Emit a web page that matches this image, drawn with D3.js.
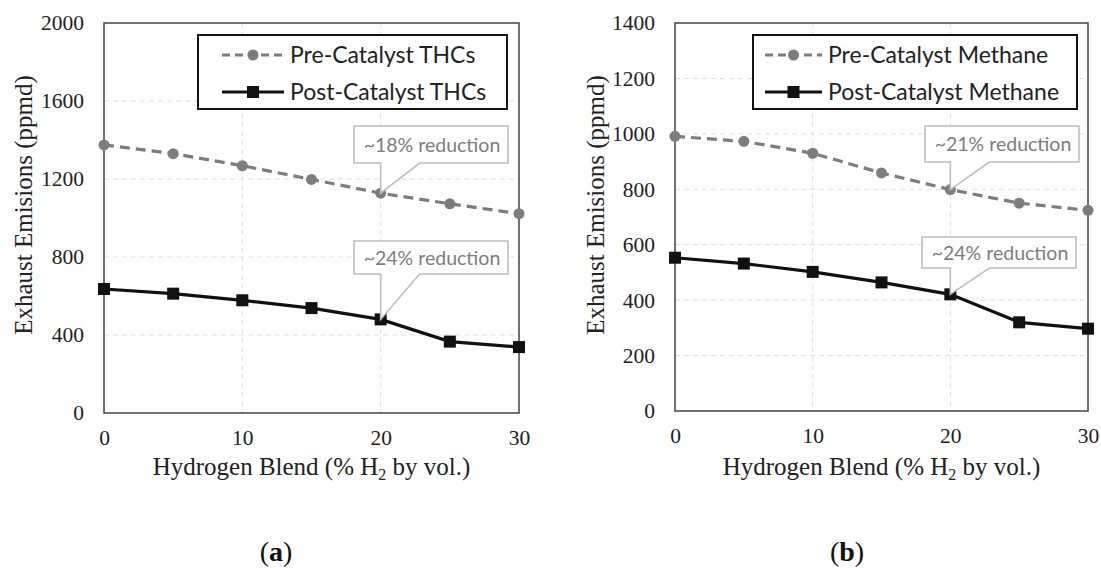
<!DOCTYPE html>
<html>
<head>
<meta charset="utf-8">
<script src="https://cdn.jsdelivr.net/npm/d3@7"></script>
<style>
  html, body { margin: 0; padding: 0; background: #fff; }
  svg { display: block; }
</style>
</head>
<body>
<svg id="chart" width="1101" height="568"></svg>
<script>
// Hydrogen blend levels (% H2 by volume)
const blend = [0, 5, 10, 15, 20, 25, 30];

// Panel (a): total hydrocarbons, ppmd
const preTHC  = [1375, 1330, 1268, 1198, 1127, 1073, 1022];
const postTHC = [636, 612, 578, 538, 480, 366, 338];

// Panel (b): methane, ppmd
const preCH4  = [991, 973, 930, 859, 799, 750, 724];
const postCH4 = [553, 532, 502, 464, 421, 320, 297];

const xTicks  = [0, 10, 20, 30];
const yTicksA = [0, 400, 800, 1200, 1600, 2000];
const yTicksB = [0, 200, 400, 600, 800, 1000, 1200, 1400];

const legendA = ["Pre-Catalyst THCs", "Post-Catalyst THCs"];
const legendB = ["Pre-Catalyst Methane", "Post-Catalyst Methane"];

const notesA = ["~18% reduction", "~24% reduction"];
const notesB = ["~21% reduction", "~24% reduction"];

const serif = "Liberation Serif, Times New Roman, serif";
const sans  = "Lato, Open Sans, sans-serif";
const grey  = "#7d7d7d";

const svg = d3.select("#chart");

function panel(opt) {
  const g = svg.append("g");
  const x = d3.scaleLinear().domain([0, 30]).range([opt.left, opt.right]);
  const y = d3.scaleLinear().domain([0, opt.yMax]).range([opt.bottom, opt.top]);

  // dashed grid
  g.append("g").selectAll("line").data(opt.yTicks.slice(1, -1)).join("line")
    .attr("x1", opt.left).attr("x2", opt.right)
    .attr("y1", d => y(d)).attr("y2", d => y(d))
    .attr("stroke", "#dedede").attr("stroke-width", 1).attr("stroke-dasharray", "5,4");
  g.append("g").selectAll("line").data(xTicks.slice(1, -1)).join("line")
    .attr("y1", opt.top).attr("y2", opt.bottom)
    .attr("x1", d => x(d)).attr("x2", d => x(d))
    .attr("stroke", "#dedede").attr("stroke-width", 1).attr("stroke-dasharray", "5,4");

  // axes (labels only, frame drawn separately)
  const yAxis = g.append("g").attr("transform", `translate(${opt.left},0)`)
    .call(d3.axisLeft(y).tickValues(opt.yTicks).tickFormat(d3.format("d"))
      .tickSize(0).tickPadding(20));
  const xAxis = g.append("g").attr("transform", `translate(0,${opt.bottom})`)
    .call(d3.axisBottom(x).tickValues(xTicks).tickFormat(d3.format("d"))
      .tickSize(0).tickPadding(17));
  [yAxis, xAxis].forEach(a => {
    a.attr("font-family", serif).attr("font-size", 21.5);
    a.select(".domain").remove();
    a.selectAll("text").attr("fill", "#222");
  });

  // frame
  g.append("rect")
    .attr("x", opt.left).attr("y", opt.top)
    .attr("width", opt.right - opt.left).attr("height", opt.bottom - opt.top)
    .attr("fill", "none").attr("stroke", "#444").attr("stroke-width", 1.5);

  // axis titles
  g.append("text")
    .attr("transform", `translate(${opt.yTitleX},${opt.yTitleY}) rotate(-90)`)
    .attr("text-anchor", "middle").attr("font-family", serif).attr("font-size", 25)
    .attr("fill", "#222").text("Exhaust Emisions (ppmd)");

  const xt = g.append("text")
    .attr("x", (opt.left + opt.right) / 2).attr("y", 475)
    .attr("text-anchor", "middle").attr("font-family", serif).attr("font-size", 25)
    .attr("fill", "#222");
  xt.append("tspan").text("Hydrogen Blend (% H");
  xt.append("tspan").attr("font-size", 16).attr("dy", 5).text("2");
  xt.append("tspan").attr("dy", -5).text(" by vol.)");

  // series
  const line = d3.line().x((d, i) => x(blend[i])).y(d => y(d));
  g.append("path").datum(opt.pre).attr("d", line)
    .attr("fill", "none").attr("stroke", grey).attr("stroke-width", 3.2)
    .attr("stroke-dasharray", "10,6");
  g.append("g").selectAll("circle").data(opt.pre).join("circle")
    .attr("cx", (d, i) => x(blend[i])).attr("cy", d => y(d)).attr("r", 5.5)
    .attr("fill", grey);

  g.append("path").datum(opt.post).attr("d", line)
    .attr("fill", "none").attr("stroke", "#111").attr("stroke-width", 3.2);
  g.append("g").selectAll("rect").data(opt.post).join("rect")
    .attr("x", (d, i) => x(blend[i]) - 6).attr("y", d => y(d) - 6)
    .attr("width", 12).attr("height", 12).attr("fill", "#111");

  // callouts pointing at the 20% blend points
  const idx = blend.indexOf(20);
  [opt.pre[idx], opt.post[idx]].forEach((v, k) => {
    const px = x(20), py = y(v);
    const c = opt.callouts[k];
    const bx = c.x, by = c.y, bw = 154, bh = c.h;
    const w2 = px + 39;
    const p = `M${bx},${by}H${bx + bw}V${by + bh}H${w2}L${px},${py}L${px},${by + bh}H${bx}Z`;
    g.append("path").attr("d", p).attr("fill", "#fff")
      .attr("stroke", "#bdbdbd").attr("stroke-width", 1.6);
    g.append("text").attr("x", bx + bw / 2 + 1).attr("y", by + bh / 2 + 7)
      .attr("text-anchor", "middle").attr("font-family", sans).attr("font-size", 19.5)
      .attr("fill", grey).text(opt.notes[k]);
  });

  // legend
  const L = opt.legend;
  g.append("rect").attr("x", L.x).attr("y", L.y).attr("width", L.w).attr("height", 74)
    .attr("fill", "#fff").attr("stroke", "#111").attr("stroke-width", 2);
  const r1 = L.y + 20, r2 = L.y + 57;
  const sx = L.x + L.sym, sw = L.sw;
  g.append("line").attr("x1", sx).attr("x2", sx + sw).attr("y1", r1).attr("y2", r1)
    .attr("stroke", grey).attr("stroke-width", 3.2).attr("stroke-dasharray", "8,5");
  g.append("circle").attr("cx", sx + sw / 2).attr("cy", r1).attr("r", 5.5).attr("fill", grey);
  g.append("line").attr("x1", sx).attr("x2", sx + sw).attr("y1", r2).attr("y2", r2)
    .attr("stroke", "#111").attr("stroke-width", 3.2);
  g.append("rect").attr("x", sx + sw / 2 - 6).attr("y", r2 - 6)
    .attr("width", 12).attr("height", 12).attr("fill", "#111");
  g.append("g").selectAll("text").data(opt.legendText).join("text")
    .attr("x", sx + sw + 6).attr("y", (d, i) => (i ? r2 : r1) + 8)
    .attr("font-family", sans).attr("font-size", 23).attr("fill", "#222").text(d => d);

  // panel tag
  const tag = svg.append("text").attr("x", opt.tagX).attr("y", 561)
    .attr("text-anchor", "middle").attr("font-family", serif).attr("font-size", 28)
    .attr("fill", "#111");
  tag.append("tspan").text("(");
  tag.append("tspan").attr("font-weight", "bold").text(opt.tag);
  tag.append("tspan").text(")");
}

panel({
  left: 104, right: 519, top: 23, bottom: 413, yMax: 2000, yTicks: yTicksA,
  pre: preTHC, post: postTHC, legendText: legendA, notes: notesA,
  yTitleX: 32, yTitleY: 205, tag: "a", tagX: 276,
  legend: { x: 198, y: 35, w: 309, sym: 24, sw: 62 },
  callouts: [{ x: 354, y: 126, h: 37 }, { x: 354, y: 241, h: 33 }]
});

panel({
  left: 675, right: 1088, top: 23, bottom: 411, yMax: 1400, yTicks: yTicksB,
  pre: preCH4, post: postCH4, legendText: legendB, notes: notesB,
  yTitleX: 604, yTitleY: 205, tag: "b", tagX: 847,
  legend: { x: 753, y: 35, w: 324, sym: 12, sw: 57 },
  callouts: [{ x: 925, y: 126, h: 36 }, { x: 922, y: 237, h: 31 }]
});
</script>
</body>
</html>
